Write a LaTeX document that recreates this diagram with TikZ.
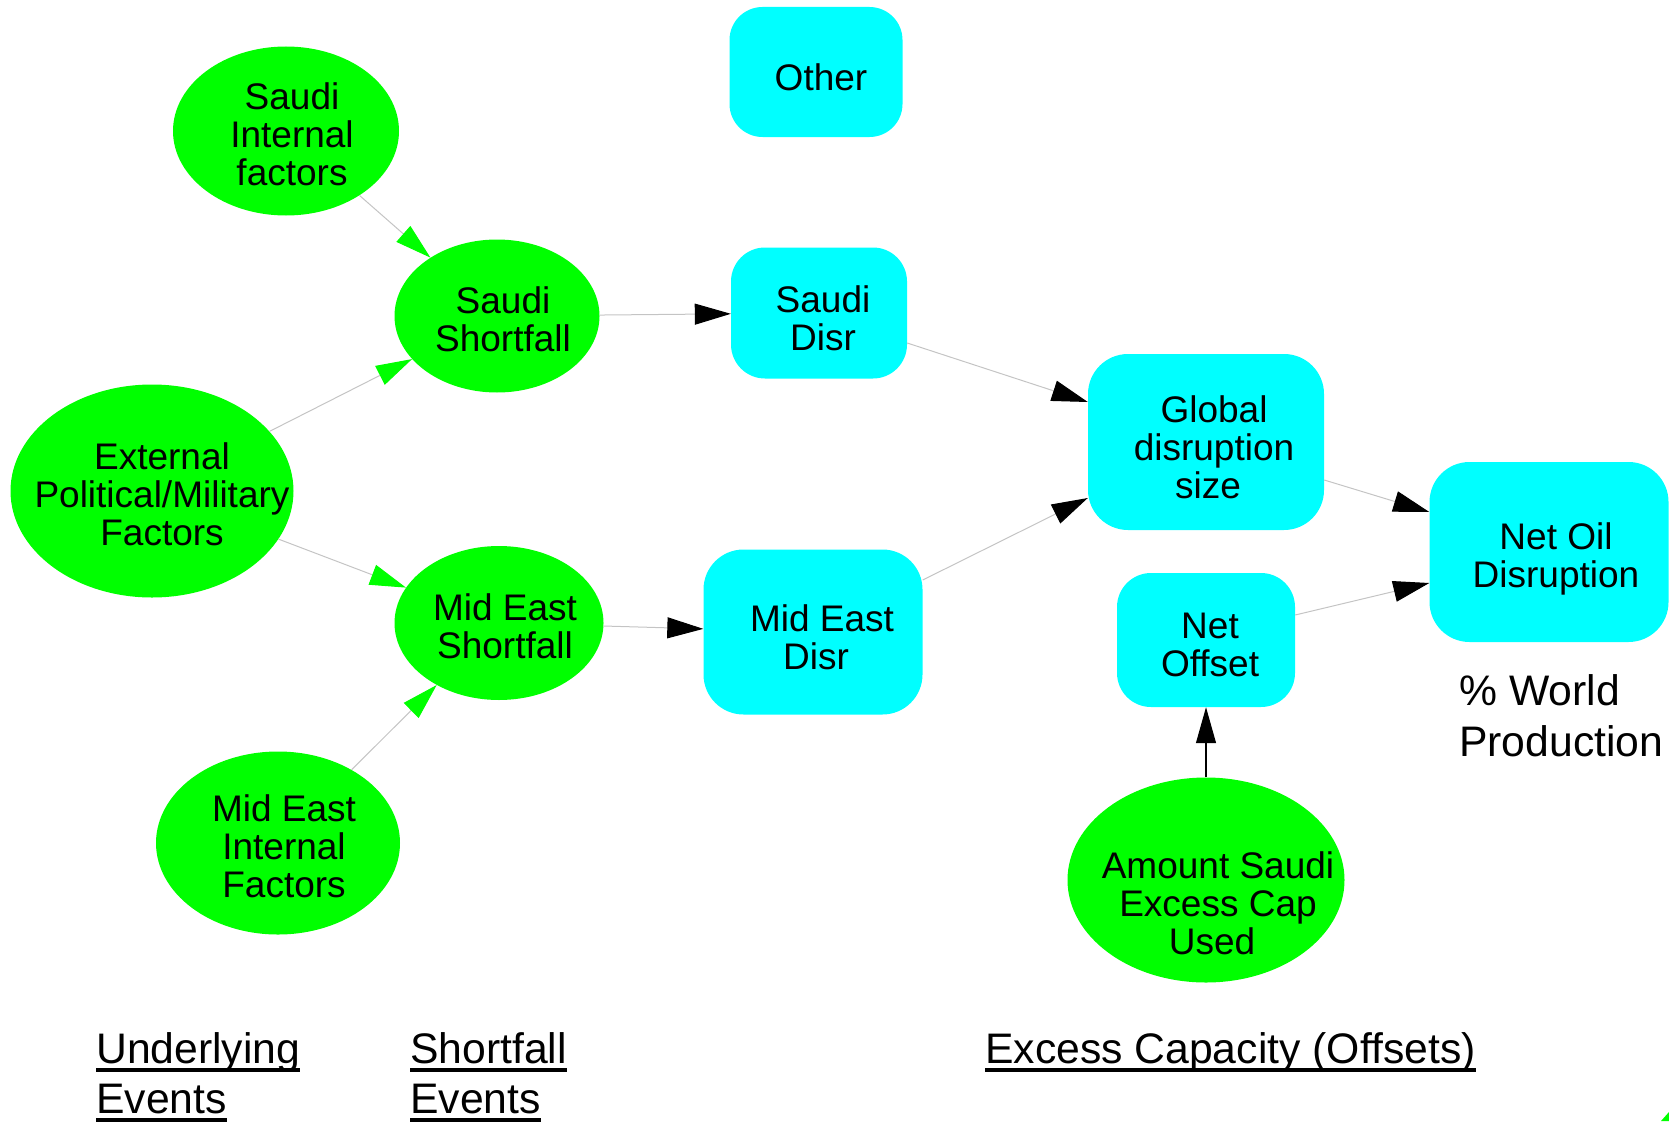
\documentclass[tikz,border=0pt]{standalone}
\usepackage{fontspec}
\setmainfont{Liberation Sans}
\usetikzlibrary{arrows.meta,shapes.geometric}

\definecolor{nodegreen}{RGB}{0,255,0}
\definecolor{nodecyan}{RGB}{0,255,255}
\definecolor{linkgray}{RGB}{196,196,196}

\newcommand\nodefont{\fontsize{37}{38}\selectfont}
\newcommand\capfont{\fontsize{42.7}{50}\selectfont}
% text with a heavy rule set a little below the baseline
\newcommand\undertext[1]{\setbox0=\hbox{#1}\rlap{\rule[-9pt]{\wd0}{4pt}}\box0}

\begin{document}
\begin{tikzpicture}[x=1pt,y=-1pt,
  lbl/.style={font=\nodefont, align=center, inner sep=0pt, xshift=6pt, yshift=-3pt},
  blbl/.style={font=\nodefont, align=center, inner sep=0pt, yshift=-5pt},
  event/.style={ellipse, fill=nodegreen, inner sep=0pt},
  stock/.style={rectangle, rounded corners=36pt, fill=nodecyan, inner sep=0pt},
  link/.style={draw=linkgray, line width=1pt},
  togreen/.style={link, -{Triangle[length=36pt,width=21pt,color=nodegreen]}},
  tocyan/.style={link, -{Triangle[length=36pt,width=21pt,color=black]}},
  feed/.style={draw=black, line width=1.2pt, -{Triangle[length=36pt,width=20pt]}},
  caption/.style={font=\capfont, anchor=base west, inner sep=0pt}]

\useasboundingbox (0,0) rectangle (1669,1121);

% underlying and shortfall events
\node[event, minimum width=226pt, minimum height=169pt,
      label={[lbl]center:Saudi\\Internal\\factors}] (sif) at (286,131) {};
\node[event, minimum width=205pt, minimum height=153pt,
      label={[lbl]center:Saudi\\Shortfall}] (ss) at (497,316) {};
\node[event, minimum width=283pt, minimum height=213pt,
      label={[lbl,xshift=4pt]center:External\\Political/Military\\Factors}] (ext) at (152,491) {};
\node[event, minimum width=209pt, minimum height=154pt,
      label={[lbl]center:Mid East\\Shortfall}] (mes) at (499,623) {};
\node[event, minimum width=244pt, minimum height=183pt,
      label={[lbl]center:Mid East\\Internal\\Factors}] (mif) at (278,843) {};
\node[event, minimum width=277pt, minimum height=205pt,
      label={[lbl,xshift=6pt,yshift=-20pt]center:Amount Saudi\\Excess Cap\\\hspace{-12pt}Used}] (amt) at (1206,880) {};

% disruption and offset quantities
\node[stock, minimum width=173pt, minimum height=130pt, rounded corners=33pt,
      label={[blbl,xshift=5pt]center:Other}] (other) at (816,72) {};
\node[stock, minimum width=176pt, minimum height=131pt, rounded corners=34pt,
      label={[blbl,xshift=4pt]center:Saudi\\Disr}] (sdisr) at (819,313) {};
\node[stock, minimum width=219pt, minimum height=165pt, rounded corners=40pt,
      label={[blbl,xshift=4pt]center:\hspace{10pt}Mid East\\\hspace{-2pt}Disr}] (med) at (813,632) {};
\node[stock, minimum width=236pt, minimum height=176pt, rounded corners=40pt,
      label={[blbl,xshift=4pt]center:\hspace{8pt}Global\\\hspace{8pt}disruption\\\hspace{-4pt}size}] (glob) at (1206,442) {};
\node[stock, minimum width=178pt, minimum height=134pt, rounded corners=34pt,
      label={[blbl,xshift=4pt]center:Net\\Offset}] (noff) at (1206,640) {};
\node[stock, minimum width=239pt, minimum height=180pt, rounded corners=40pt,
      label={[blbl,xshift=7pt,yshift=-2pt]center:Net Oil\\Disruption}] (noil) at (1549,552) {};

% influences
\draw[togreen] (sif) -- (ss);
\draw[togreen] (ext) -- (ss);
\draw[togreen] (ext) -- (mes);
\draw[togreen] (mif) -- (mes);
\draw[tocyan] (ss) -- (sdisr);
\draw[tocyan] (mes) -- (med);
\draw[tocyan] ([yshift=-30pt]sdisr.east) -- ([yshift=40pt]glob.west);
\draw[tocyan] ([yshift=52pt]med.east) -- ([yshift=-56pt]glob.west);
\draw[tocyan] ([yshift=-38pt]glob.east) -- ([yshift=40pt]noil.west);
\draw[tocyan] ([yshift=25pt]noff.east) -- ([yshift=-31pt]noil.west);
\draw[feed] (amt) -- (noff);

% unit note and column headings
\node[caption] (unit1) at (1459,705) {\% World};
\node[caption] (unit2) at (1459,756) {Production};
\node[caption] (col1a) at (96,1063) {\undertext{Underlying}};
\node[caption] (col1b) at (96,1113) {\undertext{Events}};
\node[caption] (col2a) at (410,1063) {\undertext{Shortfall}};
\node[caption] (col2b) at (410,1113) {\undertext{Events}};
\node[caption] (col3) at (985,1063) {\undertext{Excess Capacity (Offsets)}};

% corner of a shape cut off by the page edge
\fill[nodegreen] (1669,1112) -- (1669,1121) -- (1661,1121) -- cycle;
\end{tikzpicture}
\end{document}
